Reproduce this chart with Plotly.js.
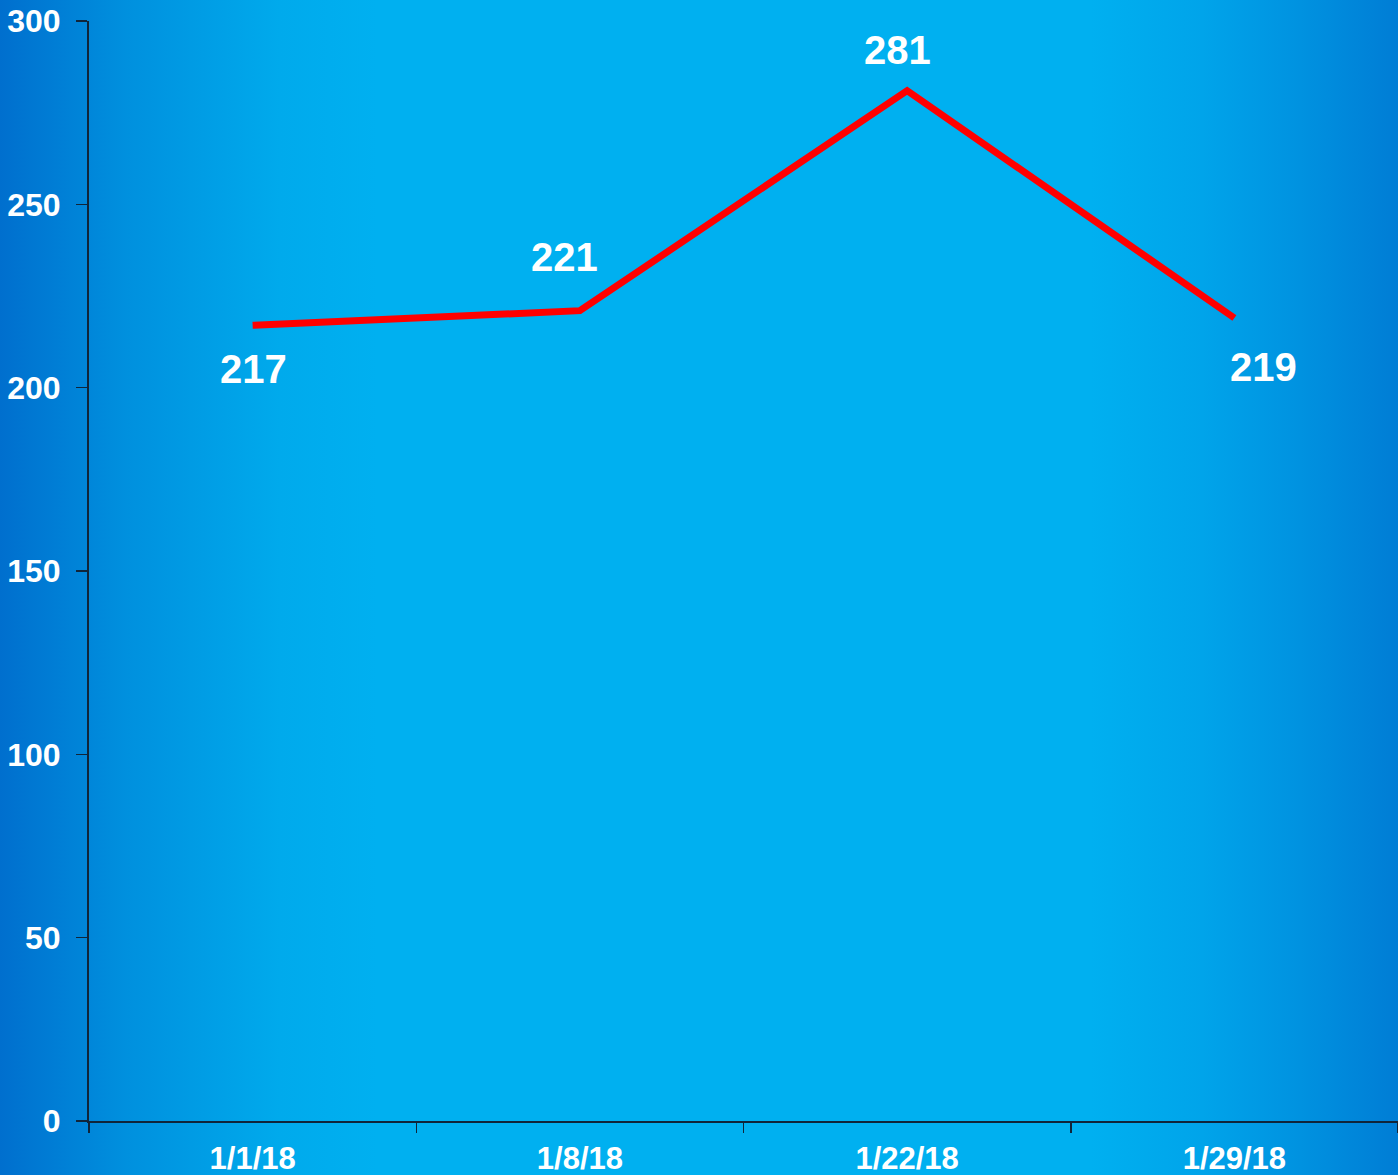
<!DOCTYPE html>
<html>
<head>
<meta charset="utf-8">
<script src="https://cdn.plot.ly/plotly-3.0.1.min.js"></script>
<style>
html, body { margin:0; padding:0; width:1398px; height:1175px; overflow:hidden;
  background: linear-gradient(to right, #006fce 0%, #0090de 9%, #00aaec 20%, #00b0f0 27%, #00b0f0 78%, #00a4ea 86%, #0092e0 93%, #007dd5 100%); }
#chart { width:1398px; height:1175px; }
</style>
</head>
<body>
<div id="chart"></div>
<script>
const categories = ["1/1/18", "1/8/18", "1/22/18", "1/29/18"];
const values = [217, 221, 281, 219];
const labelShiftX = [1, -15, -10, 29];
const labelShiftY = [-44, 54, 41, -49];

const trace = {
  x: categories,
  y: values,
  type: "scatter",
  mode: "lines",
  line: { color: "#ff0000", width: 7 },
  hoverinfo: "skip"
};

const annotations = categories.map((c, i) => ({
  x: c, y: values[i], xref: "x", yref: "y",
  text: String(values[i]), showarrow: false,
  xshift: labelShiftX[i], yshift: labelShiftY[i],
  font: { family: "Liberation Sans, Arial, sans-serif", size: 40, color: "#ffffff", weight: "bold" }
}));

const layout = {
  width: 1398, height: 1175,
  margin: { l: 89, r: 0, t: 21, b: 54 },
  paper_bgcolor: "rgba(0,0,0,0)",
  plot_bgcolor: "rgba(0,0,0,0)",
  showlegend: false,
  font: { family: "Liberation Sans, Arial, sans-serif", color: "#ffffff" },
  xaxis: {
    type: "category",
    range: [-0.5, 3.5],
    tickson: "boundaries",
    ticks: "outside", ticklen: 10, tickwidth: 1.5, tickcolor: "#10253a",
    showline: true, linecolor: "#10253a", linewidth: 2,
    showgrid: false, zeroline: false,
    tickfont: { size: 31, color: "#ffffff", weight: "bold" },
    ticklabelstandoff: 9
  },
  yaxis: {
    range: [0, 300],
    tickvals: [0, 50, 100, 150, 200, 250, 300],
    ticks: "outside", ticklen: 11, tickwidth: 1.5, tickcolor: "#10253a",
    showline: true, linecolor: "#10253a", linewidth: 2,
    showgrid: false, zeroline: false,
    tickfont: { size: 32, color: "#ffffff", weight: "bold" },
    ticklabelstandoff: 9
  },
  annotations: annotations
};

Plotly.newPlot("chart", [trace], layout, { displayModeBar: false, staticPlot: true });
</script>
</body>
</html>
